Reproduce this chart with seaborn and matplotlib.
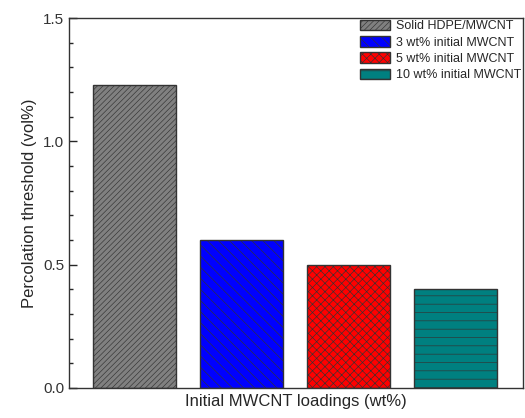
import matplotlib
matplotlib.use("Agg")
import matplotlib.pyplot as plt
import seaborn as sns
import pandas as pd
from matplotlib.ticker import MultipleLocator

# 데이터
labels = ["Solid HDPE/MWCNT", "3 wt% initial MWCNT", "5 wt% initial MWCNT", "10 wt% initial MWCNT"]
values = [1.23, 0.60, 0.50, 0.40]
colors = ["#808080", "#0000ff", "#ff0000", "#008080"]
hatches = ["//////", "\\\\\\", "xxxx", "--"]

df = pd.DataFrame({"group": labels, "value": values})

sns.set_style("ticks")
plt.rcParams["font.family"] = ["Liberation Sans", "DejaVu Sans"]
plt.rcParams["hatch.linewidth"] = 0.45

fig = plt.figure(figsize=(5.25, 4.18), dpi=100)
ax = fig.add_axes([0.1314, 0.0718, 0.8648, 0.885])

sns.barplot(data=df, x="group", y="value", hue="group", palette=colors,
            saturation=1, dodge=False, width=0.776, edgecolor="#333333",
            linewidth=1.0, legend=False, ax=ax)

for patch, h in zip(ax.patches, hatches):
    patch.set_hatch(h)

ax.set_xlim(-0.612, 3.63)
ax.set_ylim(0, 1.5)
ax.yaxis.set_major_locator(MultipleLocator(0.5))
ax.yaxis.set_minor_locator(MultipleLocator(0.1))
ax.yaxis.set_major_formatter(plt.FormatStrFormatter("%.1f"))
ax.tick_params(axis="y", which="major", direction="in", length=6, width=1,
               labelsize=11, labelcolor="#333333")
ax.tick_params(axis="y", which="minor", direction="in", length=3, width=1)
ax.set_xticks([])
ax.set_xlabel("Initial MWCNT loadings (wt%)", fontsize=12)
ax.set_ylabel("Percolation threshold (vol%)", fontsize=12)
for s in ax.spines.values():
    s.set_linewidth(1.0)
    s.set_color("#333333")

ax.legend(handles=list(ax.patches[:4]), labels=labels, loc="upper right",
          frameon=False, fontsize=9, handlelength=2.4, handleheight=0.9,
          labelspacing=0.3, handletextpad=0.5, borderaxespad=0.0,
          borderpad=0.15)

plt.savefig("out.png", dpi=100)
